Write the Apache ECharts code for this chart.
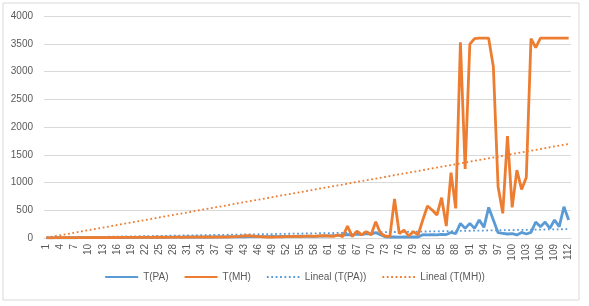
<!DOCTYPE html>
<html>
<head>
<meta charset="utf-8">
<script src="https://cdn.jsdelivr.net/npm/echarts@6/dist/echarts.min.js"></script>
<style>
  html, body { margin: 0; padding: 0; background: #fff; }
  #chart { width: 589px; height: 306px; }
</style>
</head>
<body>
<div id="chart"></div>
<script>
// categorias 1..112
var categories = [];
for (var i = 1; i <= 112; i++) categories.push(String(i));

// T(PA)
var tPA = [
  3, 2, 4, 5, 3, 6, 4, 7, 5, 6,
  8, 6, 9, 7, 10, 8, 11, 9, 12, 10,
  12, 14, 11, 13, 15, 12, 16, 14, 17, 15,
  18, 16, 19, 17, 20, 18, 22, 19, 21, 23,
  20, 24, 22, 25, 23, 27, 24, 26, 28, 25,
  29, 27, 30, 28, 32, 30, 33, 31, 35, 34,
  38, 42, 46, 55, 62, 58, 72, 60, 78, 70,
  96, 60, 22, 18, 20, 16, 18, 15, 20, 18,
  60, 55, 62, 58, 66, 62, 100, 80, 264, 174,
  264, 174, 324, 192, 552, 324, 96, 84, 72, 78,
  55, 100, 72, 100, 288, 204, 288, 174, 324, 204, 564, 324
];

// T(MH)
var tMH = [
  5, 4, 6, 5, 7, 6, 8, 7, 6, 8,
  9, 7, 10, 8, 11, 9, 10, 12, 10, 11,
  13, 11, 12, 14, 12, 15, 13, 14, 16, 13,
  15, 17, 14, 16, 18, 15, 17, 19, 16, 20,
  24, 30, 38, 42, 35, 28, 22, 18, 16, 20,
  22, 25, 28, 30, 26, 32, 35, 30, 38, 42,
  36, 30, 55, 25, 216, 25, 125, 55, 115, 55,
  294, 84, 36, 25, 702, 80, 144, 36, 115, 55,
  324, 576, 504, 414, 726, 216, 1176, 534, 3528, 1242,
  3492, 3594, 3600, 3600, 3600, 3084, 930, 444, 1836, 552,
  1224, 876, 1092, 3594, 3432, 3600, 3600, 3600, 3600, 3600, 3600, 3600
];

// lineas de tendencia: valor en el primer y ultimo punto
var trendPA = [4, 160];
var trendMH = [5, 1695];

var yTicks = { min: 0, max: 4000, interval: 500 };

var colorPA = '#5B9BD5';
var colorMH = '#ED7D31';
var txt = '#595959';
var font = 'Liberation Sans';

var myChart = echarts.init(document.getElementById('chart'));

var option = {
  animation: false,
  backgroundColor: '#fff',
  textStyle: { fontFamily: font },
  graphic: [{
    type: 'rect',
    shape: { x: 3, y: 3, width: 576, height: 297 },
    style: { fill: 'none', stroke: '#d9d9d9', lineWidth: 1 },
    silent: true
  }],
  grid: { left: 44, right: 18, top: 16, bottom: 68 },
  legend: {
    bottom: 19,
    left: 'center',
    itemWidth: 33,
    itemHeight: 10,
    itemGap: 15,
    itemStyle: { opacity: 0 },
    textStyle: { color: txt, fontSize: 10, fontFamily: font },
    data: ['T(PA)', 'T(MH)', 'Lineal (T(PA))', 'Lineal (T(MH))']
  },
  xAxis: {
    type: 'category',
    data: categories,
    boundaryGap: true,
    axisLine: { lineStyle: { color: '#d9d9d9' } },
    axisTick: { show: false },
    axisLabel: { interval: 2, rotate: 90, color: txt, fontSize: 10, margin: 6 }
  },
  yAxis: {
    type: 'value',
    min: yTicks.min,
    max: yTicks.max,
    interval: yTicks.interval,
    axisLine: { show: false },
    axisTick: { show: false },
    axisLabel: {
      color: txt, fontSize: 10, margin: 11,
      formatter: function (v) { return String(v); }
    },
    splitLine: { lineStyle: { color: '#d9d9d9' } }
  },
  series: [
    {
      name: 'T(PA)',
      type: 'line',
      data: tPA,
      symbol: 'none',
      color: colorPA,
      lineStyle: { width: 2.8, color: colorPA },
      z: 3
    },
    {
      name: 'T(MH)',
      type: 'line',
      data: tMH,
      symbol: 'none',
      color: colorMH,
      lineStyle: { width: 2.8, color: colorMH },
      z: 4
    },
    {
      name: 'Lineal (T(PA))',
      type: 'line',
      data: [[categories[0], trendPA[0]], [categories[categories.length - 1], trendPA[1]]],
      symbol: 'none',
      color: colorPA,
      lineStyle: { width: 1.8, type: [1.8, 2.6], color: colorPA },
      z: 2
    },
    {
      name: 'Lineal (T(MH))',
      type: 'line',
      data: [[categories[0], trendMH[0]], [categories[categories.length - 1], trendMH[1]]],
      symbol: 'none',
      color: colorMH,
      lineStyle: { width: 1.8, type: [1.8, 2.6], color: colorMH },
      z: 2
    }
  ]
};

myChart.setOption(option);
</script>
</body>
</html>
